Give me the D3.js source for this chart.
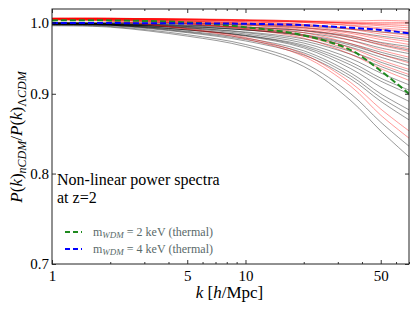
<!DOCTYPE html>
<html><head><meta charset="utf-8">
<script src="https://cdn.jsdelivr.net/npm/d3@7"></script>
<style>
body{margin:0;background:#fff;}
text{font-family:"Liberation Serif","DejaVu Serif",serif;}
</style></head>
<body><svg id="c" width="420" height="315"></svg>
<script>
// k grid (h/Mpc)
const K = [1, 2, 5, 10, 20, 35, 50, 70];
// black (grey) model curves P_nCDM/P_LCDM
const blackCurves = [
  [0.995, 0.993, 0.980, 0.965, 0.937, 0.891, 0.852, 0.820],
  [0.996, 0.994, 0.982, 0.968, 0.942, 0.900, 0.863, 0.833],
  [0.996, 0.995, 0.985, 0.973, 0.953, 0.920, 0.890, 0.866],
  [0.997, 0.996, 0.986, 0.975, 0.956, 0.924, 0.895, 0.873],
  [0.997, 0.996, 0.987, 0.977, 0.959, 0.928, 0.900, 0.879],
  [0.998, 0.997, 0.989, 0.980, 0.963, 0.934, 0.909, 0.890],
  [0.997, 0.996, 0.989, 0.981, 0.965, 0.939, 0.917, 0.900],
  [0.997, 0.996, 0.989, 0.981, 0.967, 0.943, 0.921, 0.905],
  [0.998, 0.997, 0.991, 0.983, 0.970, 0.948, 0.928, 0.912],
  [0.998, 0.997, 0.992, 0.985, 0.973, 0.954, 0.937, 0.923],
  [0.998, 0.997, 0.992, 0.986, 0.976, 0.958, 0.943, 0.930],
  [0.999, 0.998, 0.994, 0.989, 0.980, 0.964, 0.950, 0.938],
  [0.998, 0.997, 0.993, 0.989, 0.981, 0.967, 0.954, 0.944],
  [0.998, 0.997, 0.994, 0.989, 0.982, 0.969, 0.957, 0.947],
  [0.999, 0.998, 0.995, 0.991, 0.985, 0.974, 0.963, 0.955],
  [0.999, 0.998, 0.996, 0.993, 0.988, 0.978, 0.968, 0.960],
  [0.999, 0.998, 0.996, 0.993, 0.988, 0.980, 0.971, 0.965],
  [1.000, 0.999, 0.998, 0.996, 0.992, 0.986, 0.980, 0.975],
  [1.000, 1.000, 0.999, 0.997, 0.995, 0.990, 0.986, 0.983]
];
// red model curves
const redCurves = [
  [1.004, 1.002, 0.990, 0.976, 0.951, 0.910, 0.872, 0.843],
  [1.004, 1.002, 0.991, 0.978, 0.954, 0.915, 0.880, 0.852],
  [1.005, 1.004, 0.998, 0.990, 0.977, 0.954, 0.934, 0.918],
  [1.004, 1.003, 0.998, 0.991, 0.980, 0.959, 0.940, 0.926],
  [1.004, 1.003, 0.998, 0.992, 0.982, 0.963, 0.946, 0.933],
  [1.005, 1.004, 1.000, 0.994, 0.985, 0.969, 0.954, 0.942],
  [1.005, 1.004, 1.000, 0.996, 0.988, 0.974, 0.960, 0.950],
  [1.005, 1.004, 1.001, 0.997, 0.990, 0.978, 0.967, 0.958],
  [1.006, 1.005, 1.002, 0.998, 0.992, 0.981, 0.970, 0.962],
  [1.005, 1.005, 1.002, 0.999, 0.993, 0.984, 0.975, 0.968],
  [1.005, 1.005, 1.002, 0.999, 0.995, 0.986, 0.978, 0.972],
  [1.006, 1.006, 1.004, 1.001, 0.997, 0.990, 0.983, 0.978],
  [1.005, 1.005, 1.003, 1.001, 0.997, 0.991, 0.986, 0.981],
  [1.006, 1.006, 1.004, 1.003, 1.000, 0.995, 0.990, 0.986],
  [1.005, 1.005, 1.004, 1.002, 1.000, 0.996, 0.992, 0.989],
  [1.006, 1.006, 1.005, 1.004, 1.002, 0.998, 0.995, 0.992],
  [1.006, 1.006, 1.005, 1.004, 1.002, 0.999, 0.997, 0.995],
  [1.005, 1.005, 1.004, 1.003, 1.001, 0.999, 0.998, 0.998],
  [1.006, 1.006, 1.005, 1.003, 1.001, 1.000, 1.000, 1.000],
  [1.006, 1.006, 1.005, 1.003, 1.002, 1.002, 1.003, 1.002]
];
// thermal WDM reference curves
const wdm2keV = [1.003, 1.003, 1.000, 0.993, 0.981, 0.960, 0.931, 0.900];
const wdm4keV = [0.999, 0.999, 0.9985, 0.998, 0.996, 0.992, 0.989, 0.984];
// ticks
const xMajorTicks = [1, 5, 10, 50];
const xMinorTicks = [2, 3, 4, 6, 7, 8, 9, 20, 30, 40, 60, 70];
const yTicks = [0.7, 0.8, 0.9, 1.0];
const legendItems = [
  {mass: "2", color: "#1f8a1f", data: wdm2keV},
  {mass: "4", color: "#0000ff", data: wdm4keV}
];

const svg = d3.select("#c");
const L = 52, R = 409, T = 9, B = 264;
const x = d3.scaleLog().domain([1, 70]).range([L, R]);
const y = d3.scaleLog().domain([0.7, 1.02]).range([B, T]);

svg.append("defs").append("clipPath").attr("id", "clip")
  .append("rect").attr("x", L).attr("y", T).attr("width", R - L).attr("height", B - T);

const line = d3.line().x((d, i) => x(K[i])).y(d => y(d)).curve(d3.curveCatmullRom.alpha(0.5));
const plot = svg.append("g").attr("clip-path", "url(#clip)");

plot.selectAll(".blk").data(blackCurves).join("path")
  .attr("d", line).attr("fill", "none").attr("stroke", "#000")
  .attr("stroke-opacity", 0.5).attr("stroke-width", 0.8);
plot.selectAll(".red").data(redCurves).join("path")
  .attr("d", line).attr("fill", "none").attr("stroke", "#ff0000")
  .attr("stroke-opacity", 0.5).attr("stroke-width", 0.8);
plot.selectAll(".wdm").data(legendItems).join("path")
  .attr("d", d => line(d.data)).attr("fill", "none").attr("stroke", d => d.color)
  .attr("stroke-width", 2).attr("stroke-dasharray", "6,3");

// axes
function styleAxis(g) {
  g.select(".domain").remove();
  g.selectAll("line").attr("stroke", "#000").attr("stroke-width", 0.8);
  g.selectAll("text").attr("fill", "#000").style("font-size", "15px")
    .style("font-family", '"Liberation Serif", serif');
}
svg.append("g").attr("transform", `translate(0,${B})`)
  .call(d3.axisBottom(x).tickValues(xMajorTicks).tickSize(-4).tickPadding(6).tickFormat(d3.format("d")))
  .call(styleAxis);
svg.append("g").attr("transform", `translate(0,${B})`)
  .call(d3.axisBottom(x).tickValues(xMinorTicks).tickSize(-2).tickFormat(""))
  .call(styleAxis);
svg.append("g").attr("transform", `translate(0,${T})`)
  .call(d3.axisTop(x).tickValues(xMajorTicks).tickSize(-4).tickFormat(""))
  .call(styleAxis);
svg.append("g").attr("transform", `translate(0,${T})`)
  .call(d3.axisTop(x).tickValues(xMinorTicks).tickSize(-2).tickFormat(""))
  .call(styleAxis);
svg.append("g").attr("transform", `translate(${L},0)`)
  .call(d3.axisLeft(y).tickValues(yTicks).tickSize(-4).tickPadding(3).tickFormat(d3.format(".1f")))
  .call(styleAxis);
svg.append("g").attr("transform", `translate(${R},0)`)
  .call(d3.axisRight(y).tickValues(yTicks).tickSize(-4).tickFormat(""))
  .call(styleAxis);

svg.append("rect").attr("x", L).attr("y", T).attr("width", R - L).attr("height", B - T)
  .attr("fill", "none").attr("stroke", "#222").attr("stroke-width", 1);

// x label
const xl = svg.append("text").attr("x", (L + R) / 2 - 1).attr("y", 298)
  .attr("text-anchor", "middle").style("font-size", "17px");
xl.append("tspan").attr("font-style", "italic").text("k");
xl.append("tspan").text(" [");
xl.append("tspan").attr("font-style", "italic").text("h");
xl.append("tspan").text("/Mpc]");

// y label
const yl = svg.append("text").attr("transform", "translate(22,137) rotate(-90)")
  .attr("text-anchor", "middle").style("font-size", "17px");
yl.append("tspan").attr("font-style", "italic").text("P");
yl.append("tspan").text("(");
yl.append("tspan").attr("font-style", "italic").text("k");
yl.append("tspan").text(")");
yl.append("tspan").attr("font-style", "italic").style("font-size", "12px").attr("dy", 4).text("nCDM");
yl.append("tspan").attr("dy", -4).text("/");
yl.append("tspan").attr("font-style", "italic").text("P");
yl.append("tspan").text("(");
yl.append("tspan").attr("font-style", "italic").text("k");
yl.append("tspan").text(")");
yl.append("tspan").style("font-size", "12px").attr("dy", 4).text("Λ");
yl.append("tspan").attr("font-style", "italic").style("font-size", "12px").text("CDM");

// annotation
svg.append("text").attr("x", 57).attr("y", 185).style("font-size", "16px").text("Non-linear power spectra");
svg.append("text").attr("x", 57).attr("y", 203).style("font-size", "16px").text("at z=2");

// legend
const lg = svg.append("g");
legendItems.forEach((d, i) => {
  const yy = 232 + i * 17;
  lg.append("line").attr("x1", 65).attr("x2", 82).attr("y1", yy).attr("y2", yy)
    .attr("stroke", d.color).attr("stroke-width", 2).attr("stroke-dasharray", "5,3");
  const t = lg.append("text").attr("x", 93).attr("y", yy + 4).attr("fill", "#5a6a6a").style("font-size", "12px");
  t.append("tspan").text("m");
  t.append("tspan").attr("font-style", "italic").style("font-size", "9px").attr("dy", 2).text("WDM");
  t.append("tspan").attr("dy", -2).text(` = ${d.mass} keV (thermal)`);
});
</script></body></html>
